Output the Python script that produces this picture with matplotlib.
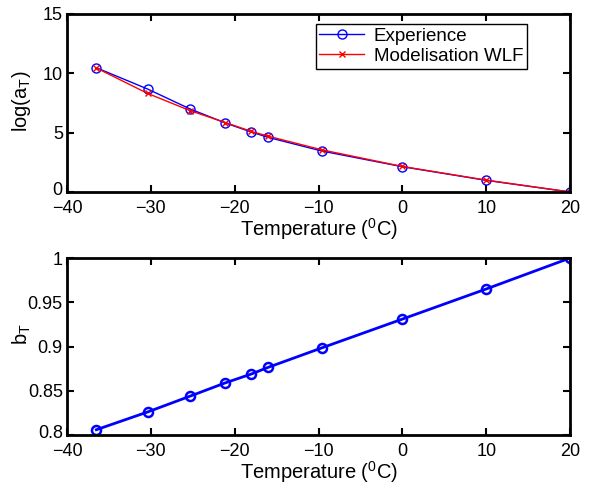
import matplotlib
matplotlib.use("Agg")
import matplotlib.pyplot as plt
import matplotlib.transforms as mtransforms

plt.rcParams['font.family'] = ['Liberation Sans', 'DejaVu Sans']
plt.rcParams['mathtext.fontset'] = 'custom'
plt.rcParams['mathtext.rm'] = 'Liberation Sans'
plt.rcParams['mathtext.it'] = 'Liberation Sans'
plt.rcParams['font.size'] = 13

temperature = [-36.5, -30.4, -25.3, -21.1, -18.0, -16.0, -9.6, 0.0, 10.0, 20.0]
log_aT_exp = [10.47, 8.68, 6.99, 5.81, 5.05, 4.60, 3.45, 2.13, 0.98, 0.0]
log_aT_wlf = [10.45, 8.31, 6.85, 5.85, 5.10, 4.70, 3.55, 2.15, 1.00, 0.0]
b_T = [0.806, 0.826, 0.844, 0.859, 0.869, 0.8765, 0.8985, 0.931, 0.965, 1.0]

fig = plt.figure(figsize=(6.16, 4.91), dpi=100)
ax1 = fig.add_axes([0.1088, 0.609, 0.8166, 0.3625])
ax2 = fig.add_axes([0.1088, 0.114, 0.8166, 0.3605])

LABEL_FS = 14.5

ax1.plot(temperature, log_aT_exp, color='blue', lw=1.0, marker='o', ms=6.5,
         mfc='none', mec='blue', mew=1.0, label='Experience')
ax1.plot(temperature, log_aT_wlf, color='red', lw=1.0, marker='x', ms=4,
         mec='red', mew=1.0, label='Modelisation WLF')
ax1.set_xlim(-40, 20)
ax1.set_ylim(0, 15)
ax1.set_xticks([-40, -30, -20, -10, 0, 10, 20])
ax1.set_yticks([0, 5, 10, 15])
ax1.set_xlabel('Temperature ($^0$C)', labelpad=-1, fontsize=LABEL_FS)
ax1.set_ylabel('log(a$_T$)', fontsize=LABEL_FS)
ax1.yaxis.set_label_coords(-0.068, 0.51)
leg = ax1.legend(loc='upper right', bbox_to_anchor=(0.9145, 0.944),
                 fancybox=False, edgecolor='black', framealpha=1, fontsize=13.5,
                 borderpad=0.2, labelspacing=0.15, handlelength=2.4,
                 handletextpad=0.5, borderaxespad=0)
leg.get_frame().set_linewidth(1.0)

ax2.plot(temperature, b_T, color='blue', lw=2.0, marker='o', ms=6.5,
         mfc='none', mec='blue', mew=1.8)
ax2.set_xlim(-40, 20)
ax2.set_ylim(0.8, 1.0)
ax2.set_xticks([-40, -30, -20, -10, 0, 10, 20])
ax2.set_yticks([0.8, 0.85, 0.9, 0.95, 1.0])
ax2.set_yticklabels(['0.8', '0.85', '0.9', '0.95', '1'])
ax2.set_xlabel('Temperature ($^0$C)', labelpad=-1, fontsize=LABEL_FS)
ax2.set_ylabel('b$_T$', fontsize=LABEL_FS)
ax2.yaxis.set_label_coords(-0.068, 0.57)

for ax in (ax1, ax2):
    for s in ax.spines.values():
        s.set_linewidth(2.0)
    ax.tick_params(direction='in', length=5, width=1.5, top=True, right=True,
                   labelsize=13)
    ax.tick_params(axis='x', pad=6)
    ax.tick_params(axis='y', pad=3)

# nudge the lowest y tick labels up slightly so they sit above the "-40"
up = mtransforms.ScaledTranslation(0, 2.5 / 72, fig.dpi_scale_trans)
for ax in (ax1, ax2):
    lbl = ax.yaxis.get_major_ticks()[0].label1
    lbl.set_transform(lbl.get_transform() + up)

fig.savefig('out.png', dpi=100)
